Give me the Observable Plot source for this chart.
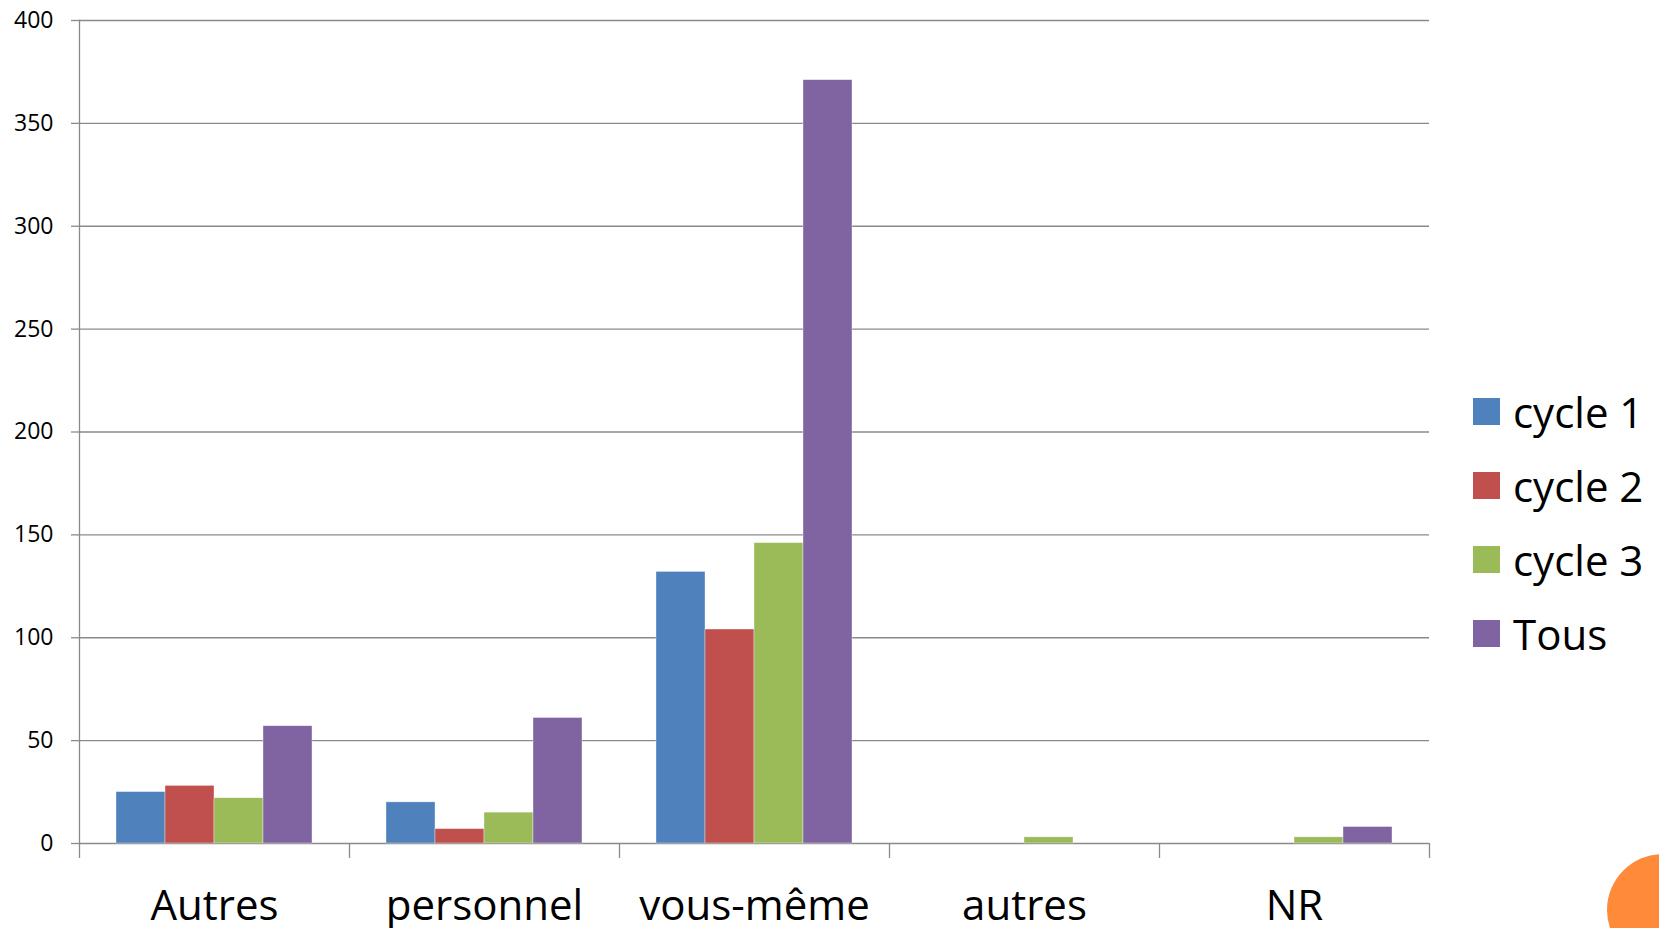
<!DOCTYPE html>
<html>
<head>
<meta charset="utf-8">
<script src="https://cdn.jsdelivr.net/npm/d3@7"></script>
<script src="https://cdn.jsdelivr.net/npm/@observablehq/plot@0.6"></script>
<style>
  html, body { margin: 0; padding: 0; background: #fff; overflow: hidden; }
  #wrap { position: relative; width: 1659px; height: 928px; font-family: "Open Sans", sans-serif; }
  #chart { position: absolute; left: 0; top: 0; }
  .legend { position: absolute; left: 1473px; top: 398px; }
  .item { display: flex; align-items: center; height: 27px; margin-bottom: 47px; }
  .sw { width: 27px; height: 27px; margin-right: 13px; }
  .lab { font-size: 42px; line-height: 27px; color: #000; white-space: nowrap; }
  .deco { position: absolute; left: 1607px; top: 854px; width: 112px; height: 112px; border-radius: 50%; background: #fe8a3a; }
</style>
</head>
<body>
<div id="wrap">
  <div id="chart"></div>
  <div class="legend" id="legend"></div>
  <div class="deco"></div>
</div>
<script>
const categories = ["Autres", "personnel", "vous-même", "autres", "NR"];
const series = ["cycle 1", "cycle 2", "cycle 3", "Tous"];
const cycle1 = [25, 20, 132, 0, 0];
const cycle2 = [28, 7, 104, 0, 0];
const cycle3 = [22, 15, 146, 3, 3];
const tous = [57, 61, 371, 0, 8];
const yTicks = [0, 50, 100, 150, 200, 250, 300, 350, 400];
const colors = ["#4f81bd", "#c0504d", "#9bbb59", "#8064a2"];

const seriesValues = [cycle1, cycle2, cycle3, tous];
const data = [];
categories.forEach((c, i) => {
  series.forEach((s, j) => {
    const v = seriesValues[j][i];
    if (v > 0) data.push({category: c, series: s, value: v});
  });
});

const W = 1659, H = 928, mL = 79, mR = 230, mT = 20, mB = 85;
const step = (W - mL - mR) / categories.length;
const gray = "#8a8a8a";

const chart = Plot.plot({
  width: W, height: H,
  marginLeft: mL, marginRight: mR, marginTop: mT, marginBottom: mB,
  style: {fontFamily: "Open Sans, sans-serif", fontSize: "23px", background: "transparent", overflow: "visible"},
  fx: {domain: categories, padding: 0, label: null},
  x: {domain: series, paddingInner: 0, paddingOuter: 0.755, axis: null},
  y: {domain: [0, 400], label: null},
  color: {domain: series, range: colors},
  marks: [
    Plot.ruleY(yTicks, {stroke: gray, strokeWidth: 1.3}),
    Plot.barY(data, {fx: "category", x: "series", y: "value", fill: "series", stroke: "white", strokeWidth: 0.6, strokeOpacity: 0.6}),
    Plot.frame({anchor: "left", facetAnchor: "left", stroke: gray, strokeWidth: 1.3}),
    Plot.axisY({ticks: yTicks, tickSize: 8, tickPadding: 18, stroke: gray, fill: "black", fontSize: 23, label: null, strokeWidth: 1.3}),
    Plot.axisFx({anchor: "bottom", tickSize: 0, tickPadding: 47, fontSize: 42, fill: "black", label: null}),
    Plot.axisFx({anchor: "bottom", tickSize: 15, tickFormat: () => "", dx: -step / 2, stroke: gray, strokeWidth: 1.3, label: null}),
    Plot.axisFx({anchor: "bottom", ticks: [categories[categories.length - 1]], tickSize: 15, tickFormat: () => "", dx: step / 2, stroke: gray, strokeWidth: 1.3, label: null})
  ]
});
document.getElementById("chart").appendChild(chart);

const legend = document.getElementById("legend");
series.forEach((s, j) => {
  const item = document.createElement("div");
  item.className = "item";
  const sw = document.createElement("div");
  sw.className = "sw";
  sw.style.background = colors[j];
  const lab = document.createElement("div");
  lab.className = "lab";
  lab.textContent = s;
  item.appendChild(sw);
  item.appendChild(lab);
  legend.appendChild(item);
});
</script>
</body>
</html>
